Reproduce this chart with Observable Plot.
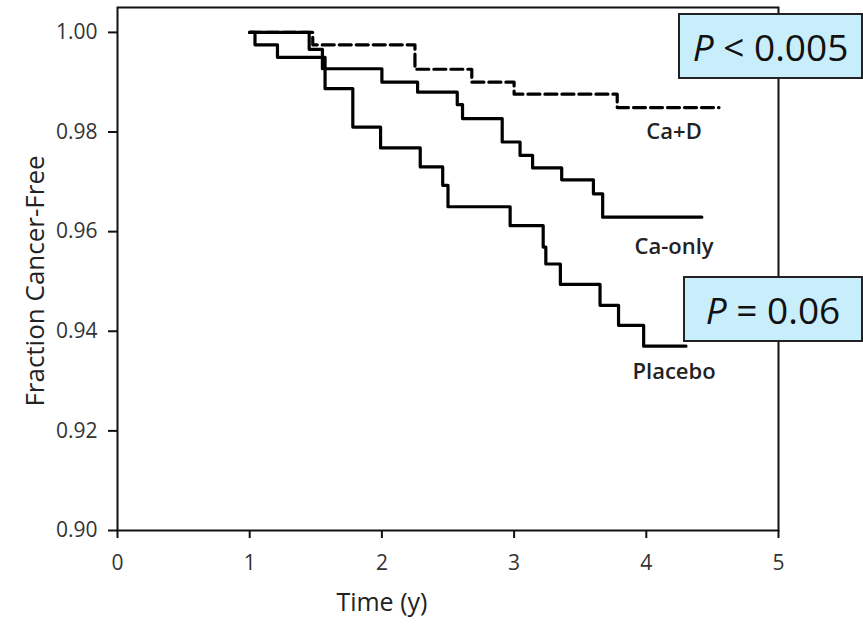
<!DOCTYPE html>
<html>
<head>
<meta charset="utf-8">
<script src="https://cdn.jsdelivr.net/npm/d3@7"></script>
<script src="https://cdn.jsdelivr.net/npm/@observablehq/plot@0.6"></script>
<style>
  html, body { margin: 0; padding: 0; background: #fff; }
  #wrap { position: relative; width: 863px; height: 625px; font-family: "Open Sans", sans-serif; }
  .pbox { position: absolute; background: #c8eefc; border: 2px solid #222; box-sizing: border-box;
          display: flex; align-items: center; justify-content: center; font-size: 37px; color: #111;
          font-family: "Open Sans", sans-serif; }
</style>
</head>
<body>
<div id="wrap"></div>
<script>
// Kaplan–Meier step data (time in years, fraction cancer-free)
const caD_t = [1.0, 1.477, 2.25, 2.68, 3.0, 3.78, 4.55];
const caD_s = [1.0, 0.9975, 0.9926, 0.990, 0.9876, 0.9849, 0.9849];
const caOnly_t = [1.0, 1.45, 1.55, 2.0, 2.27, 2.57, 2.61, 2.91, 3.045, 3.14, 3.36, 3.60, 3.67, 4.42];
const caOnly_s = [1.0, 0.9966, 0.9927, 0.990, 0.988, 0.9855, 0.9827, 0.978, 0.9753, 0.9728, 0.9704, 0.9676, 0.9629, 0.9629];
const placebo_t = [1.0, 1.04, 1.21, 1.57, 1.78, 1.99, 2.29, 2.46, 2.50, 2.97, 3.22, 3.24, 3.35, 3.65, 3.79, 3.98, 4.30];
const placebo_s = [1.0, 0.9975, 0.995, 0.9887, 0.981, 0.9768, 0.973, 0.9693, 0.965, 0.9612, 0.9569, 0.9535, 0.9494, 0.9452, 0.9412, 0.937, 0.937];
const seriesNames = ["Ca+D", "Ca-only", "Placebo"];
const xTicks = [0, 1, 2, 3, 4, 5];
const yTicks = [0.90, 0.92, 0.94, 0.96, 0.98, 1.00];
const xLabel = "Time (y)";
const yLabel = "Fraction Cancer-Free";
const pLabels = ["< 0.005", "= 0.06"];

const toRows = (name, ts, ss) => ts.map((t, i) => ({series: name, t, s: ss[i]}));
const caD = toRows(seriesNames[0], caD_t, caD_s);
const caOnly = toRows(seriesNames[1], caOnly_t, caOnly_s);
const placebo = toRows(seriesNames[2], placebo_t, placebo_s);
const last = rows => [rows[rows.length - 1]];
const labelX = 4.21;
const xLabelAt = 2.0;
const fx = d3.format("d"), fy = d3.format(".2f");

const chart = Plot.plot({
  width: 863,
  height: 625,
  marginLeft: 117,
  marginRight: 85,
  marginTop: 7,
  marginBottom: 95,
  style: {fontFamily: "Open Sans, sans-serif", background: "transparent", color: "#333"},
  x: {domain: [0, 5]},
  y: {domain: [0.90, 1.005]},
  marks: [
    Plot.axisX({ticks: xTicks, tickFormat: fx, tickSize: 8, tickPadding: 17, fontSize: 21,
      strokeWidth: 2, stroke: "#111", color: "#333", label: null}),
    Plot.axisY({ticks: yTicks, tickFormat: fy, tickSize: 9, tickPadding: 11, fontSize: 21,
      strokeWidth: 2, stroke: "#111", color: "#333", label: null}),
    Plot.text([xLabel], {x: () => xLabelAt, frameAnchor: "bottom", dy: 80, fontSize: 25, fill: "#222"}),
    Plot.text([yLabel], {frameAnchor: "left", rotate: -90, textAnchor: "middle", dx: -82, dy: 12, fontSize: 26, fill: "#222"}),
    Plot.frame({stroke: "#111", strokeWidth: 2}),
    Plot.line(placebo, {x: "t", y: "s", curve: "step-after", stroke: "#000", strokeWidth: 3.2}),
    Plot.line(caOnly, {x: "t", y: "s", curve: "step-after", stroke: "#000", strokeWidth: 3.2}),
    Plot.line(caD, {x: "t", y: "s", curve: "step-after", stroke: "#000", strokeWidth: 3.2, strokeDasharray: "12,5"}),
    Plot.text(last(caD), {x: () => labelX, y: "s", text: "series", dy: 24, fontSize: 22, fontWeight: 600, fill: "#222"}),
    Plot.text(last(caOnly), {x: () => labelX, y: "s", text: "series", dy: 30, fontSize: 22, fontWeight: 600, fill: "#222"}),
    Plot.text(last(placebo), {x: () => labelX, y: "s", text: "series", dy: 26, fontSize: 22, fontWeight: 600, fill: "#222"})
  ]
});
const wrap = document.getElementById("wrap");
wrap.appendChild(chart);

const boxes = [
  {label: pLabels[0], left: 678, top: 13, width: 185, height: 66},
  {label: pLabels[1], left: 683, top: 276, width: 180, height: 66}
];
for (const b of boxes) {
  const d = document.createElement("div");
  d.className = "pbox";
  d.style.left = b.left + "px"; d.style.top = b.top + "px";
  d.style.width = b.width + "px"; d.style.height = b.height + "px";
  d.innerHTML = "<i>P</i>&nbsp;" + b.label.replace("<", "&lt;");
  wrap.appendChild(d);
}
</script>
</body>
</html>
